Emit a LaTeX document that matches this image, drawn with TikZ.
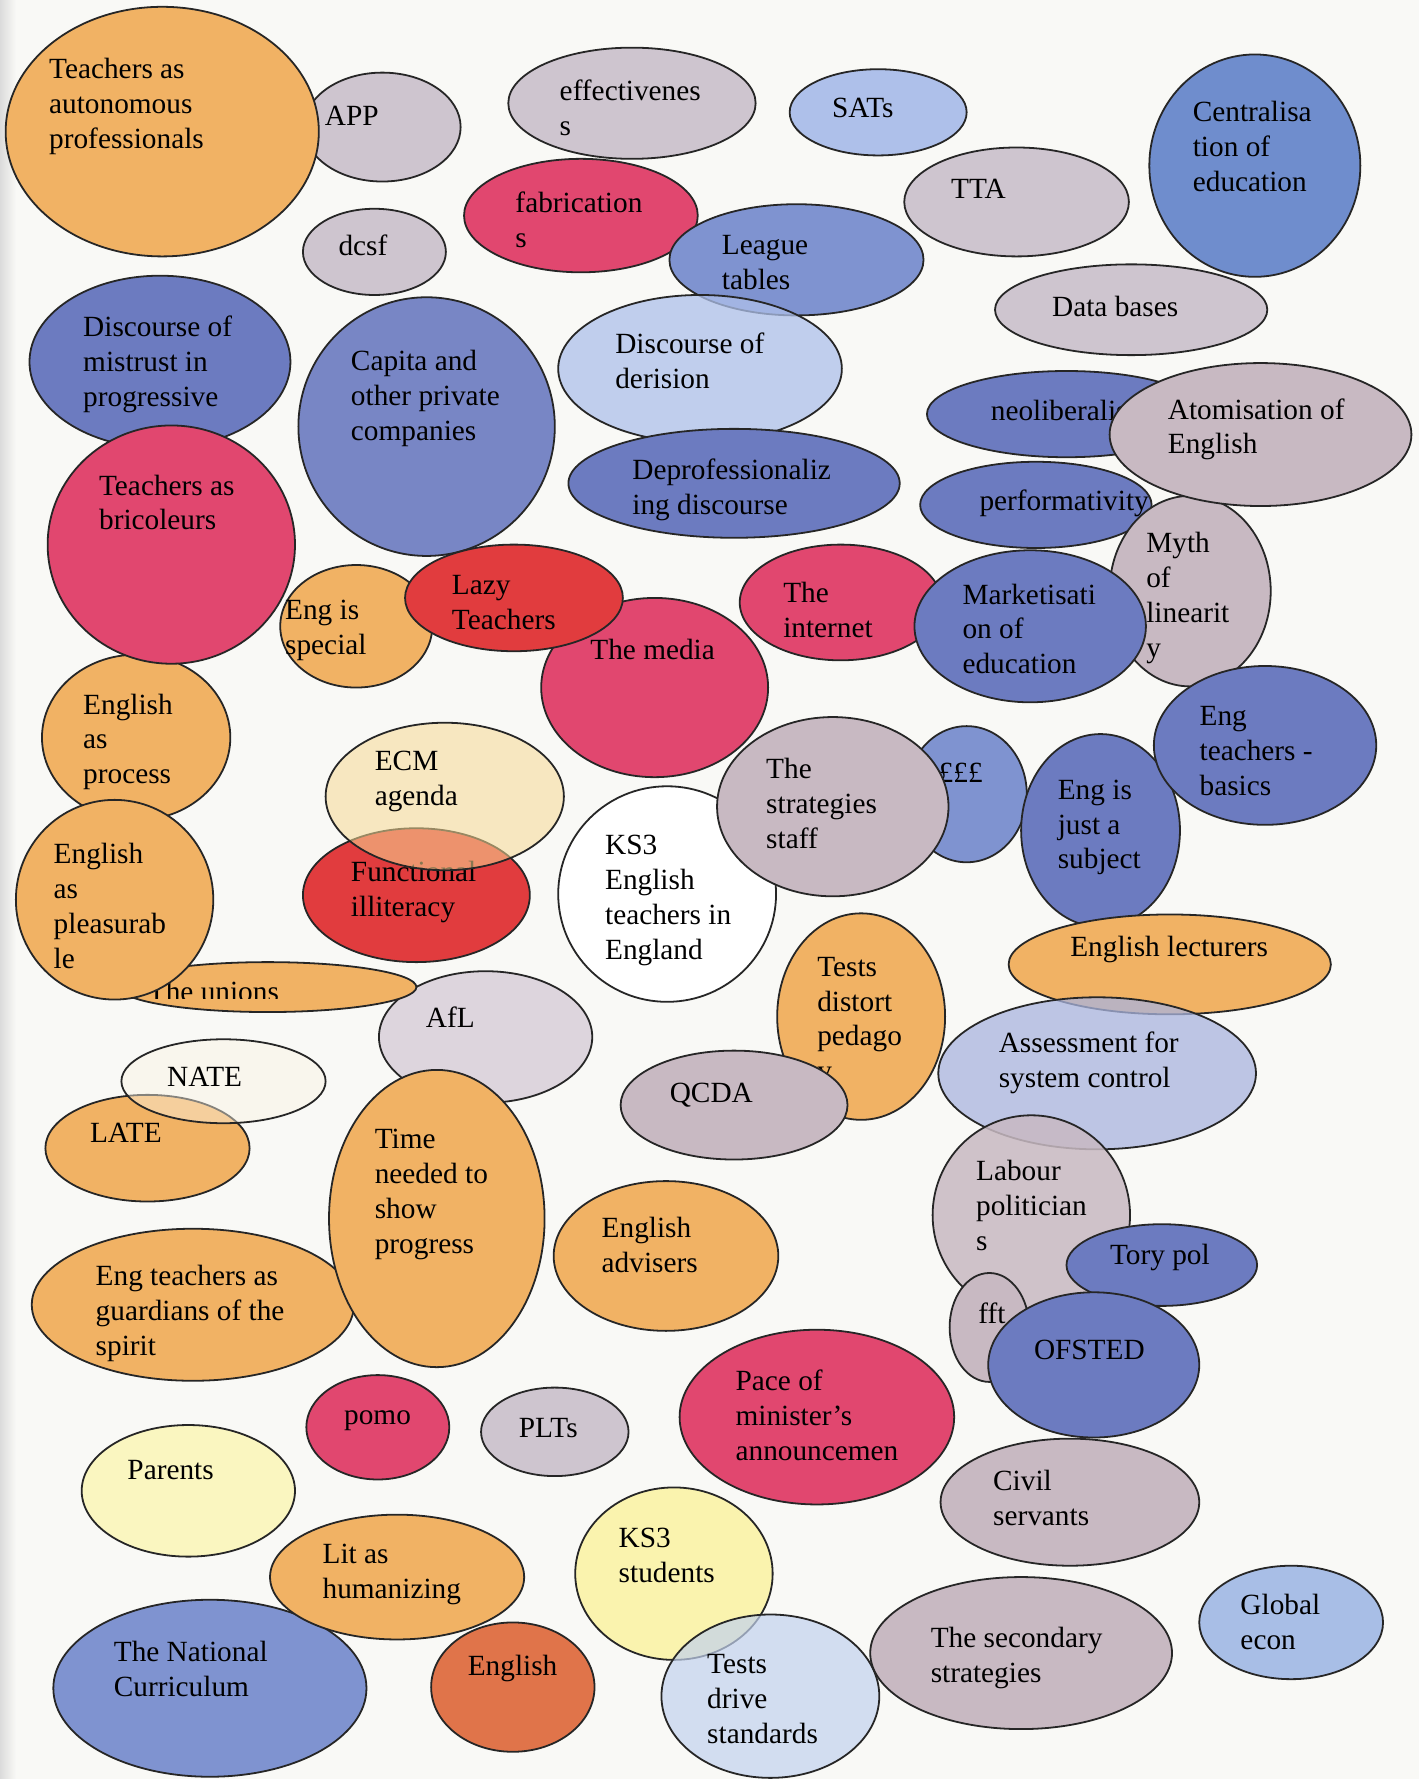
\documentclass[tikz,border=0pt]{standalone}
\usepackage{fontspec}
\setmainfont{Liberation Serif}
\usetikzlibrary{shapes.geometric}

\definecolor{paper}{HTML}{F9F9F6}
\definecolor{orangeB}{HTML}{F1B264}
\definecolor{crimsonB}{HTML}{E1476F}
\definecolor{redB}{HTML}{E13C3E}
\definecolor{blueD}{HTML}{6C7BC0}
\definecolor{blueM}{HTML}{7F93D0}
\definecolor{blueC}{HTML}{6F8DCD}
\definecolor{blueL}{HTML}{AEC0EA}
\definecolor{blueLL}{HTML}{C2D2EE}
\definecolor{blueA}{HTML}{A9B4DE}
\definecolor{blueG}{HTML}{A8BEE6}
\definecolor{greyA}{HTML}{CEC5CF}
\definecolor{greyB}{HTML}{C8B9C2}
\definecolor{greyC}{HTML}{DDD5DD}
\definecolor{ecmY}{HTML}{F7DA94}
\definecolor{nateY}{HTML}{FAF3E4}
\definecolor{parentY}{HTML}{FAF6C0}
\definecolor{studentY}{HTML}{FAF3AE}
\definecolor{englishO}{HTML}{E0744A}

\tikzset{
  bubble/.style={ellipse, draw=black!85, line width=0.9pt, inner sep=0pt},
  lbl/.style={anchor=north west, inner sep=0pt, align=left,
    font=\fontsize{14.7}{17.5}\selectfont, text=black},
}

% \Bub{name}{cx}{cy}{x radius}{y radius}{style}
\newcommand\Bub[6]{\node[bubble,#6,minimum width={2*#4*0.02cm},minimum height={2*#5*0.02cm}] (#1) at (#2,#3) {};}
% \Txt{name}{left x}{middle of first line}{text}
\newcommand\Txt[4]{\node[lbl] (#1) at (#2,#3-12.5) {\strut #4};}

\begin{document}
\begin{tikzpicture}[x=0.02cm, y=-0.02cm]
\useasboundingbox (0,0) rectangle (1251,1568);
\fill[paper] (0,0) rectangle (1251,1568);
\shade[left color=black!14, right color=paper] (0,0) rectangle (14,1568);

% top rows
\Bub{b-app}{337}{112}{69}{48}{fill=greyA}
\Txt{t-app}{286}{101}{APP}
\Bub{b-auto}{143}{116}{138}{110}{fill=orangeB}
\Txt{t-auto}{43}{60}{Teachers as\\autonomous\\professionals}
\Bub{b-eff}{557}{91}{109}{49}{fill=greyA}
\Txt{t-eff}{493}{79}{effectivenes\\s}
\Bub{b-sats}{774}{99}{78}{38}{fill=blueL}
\Txt{t-sats}{733}{94}{SATs}
\Bub{b-fab}{512}{190}{103}{50}{fill=crimsonB}
\Txt{t-fab}{454}{178}{fabrication\\s}
\Bub{b-league}{702}{229}{112}{49}{fill=blueM}
\Txt{t-league}{636}{215}{League\\tables}
\Bub{b-deris}{617}{325}{125}{65}{fill=blueL, fill opacity=0.75}
\Txt{t-deris}{542}{302}{Discourse of\\derision}
\Bub{b-deprof}{647}{426}{146}{48}{fill=blueD}
\Txt{t-deprof}{557}{413}{Deprofessionaliz\\ing discourse}
\Bub{b-tta}{896}{178}{99}{48}{fill=greyA}
\Txt{t-tta}{838}{166}{TTA}
\Bub{b-central}{1106}{146}{93}{98}{fill=blueC}
\Txt{t-central}{1051}{98}{Centralisa\\tion of\\education}
\Bub{b-data}{997}{273}{120}{40}{fill=greyA}
\Txt{t-data}{927}{270}{Data bases}
\Bub{b-dcsf}{330}{222}{63}{38}{fill=greyA}
\Txt{t-dcsf}{298}{216}{dcsf}
\Bub{b-mistrust}{141}{319}{115}{76}{fill=blueD}
\Txt{t-mistrust}{73}{287}{Discourse of\\mistrust in\\progressive}
\Bub{b-capita}{376}{376}{113}{114}{fill=blueD!92!white}
\Txt{t-capita}{309}{317}{Capita and\\other private\\companies}

% middle band
\Bub{b-process}{120}{650}{83}{73}{fill=orangeB}
\Txt{t-process}{73}{620}{English\\as\\process}
\Bub{b-special}{314}{552}{67}{54}{fill=orangeB}
\Txt{t-special}{251}{537}{Eng is\\special}
\Bub{b-bricol}{151}{480}{109}{105}{fill=crimsonB}
\Txt{t-bricol}{87}{427}{Teachers as\\bricoleurs}
\Bub{b-media}{577}{606}{100}{79}{fill=crimsonB}
\Txt{t-media}{520}{572}{The media}
\Bub{b-lazy}{453}{527}{96}{47}{fill=redB}
\Txt{t-lazy}{398}{515}{Lazy\\Teachers}
\Bub{b-internet}{741}{531}{89}{51}{fill=crimsonB}
\Txt{t-internet}{690}{522}{The\\internet}
\Bub{b-neolib}{940}{365}{123}{38}{fill=blueD}
\Txt{t-neolib}{873}{361}{neoliberalism}
\Bub{b-perf}{913}{445}{102}{38}{fill=blueD}
\Txt{t-perf}{863}{441}{performativity}
\Bub{b-myth}{1049}{521}{71}{84}{fill=greyB}
\Txt{t-myth}{1010}{478}{Myth\\of\\linearit\\y}
\Bub{b-atom}{1111}{383}{133}{63}{fill=greyB}
\Txt{t-atom}{1029}{360}{Atomisation of\\English}
\Bub{b-market}{908}{552}{102}{67}{fill=blueD}
\Txt{t-market}{848}{523}{Marketisati\\on of\\education}
\Bub{b-ks3t}{588}{788}{96}{95}{fill=white}
\Txt{t-ks3t}{533}{744}{KS3\\English\\teachers in\\England}
\Bub{b-money}{852}{700}{53}{60}{fill=blueM}
\Txt{t-money}{827}{680}{£££}
\Bub{b-strat}{734}{711}{102}{79}{fill=greyB}
\Txt{t-strat}{675}{677}{The\\strategies\\staff}
\Bub{b-just}{970}{732}{70}{85}{fill=blueD}
\Txt{t-just}{932}{695}{Eng is\\just a\\subject}
\Bub{b-basics}{1115}{657}{98}{70}{fill=blueD}
\Txt{t-basics}{1057}{630}{Eng\\teachers -\\basics}
\Bub{b-funct}{367}{789}{100}{59}{fill=redB}
\Txt{t-funct}{309}{768}{Functional\\illiteracy}
\Bub{b-ecm}{392}{702}{105}{65}{fill=ecmY, fill opacity=0.55}
\Txt{t-ecm}{330}{670}{ECM\\agenda}
\Bub{b-afl}{428}{914}{94}{58}{fill=greyC}
\Txt{t-afl}{375}{896}{AfL}
\Bub{b-unions}{236}{870}{131}{22}{fill=orangeB}
\begin{scope}
  % the label sits in a text box that cuts it off just above the baseline
  \clip (100,845) rectangle (370,880);
  \Txt{t-unions}{130}{873}{The unions}
\end{scope}
\Bub{b-pleas}{101}{793}{87}{88}{fill=orangeB}
\Txt{t-pleas}{47}{752}{English\\as\\pleasurab\\le}
\Bub{b-late}{130}{1012}{90}{47}{fill=orangeB}
\Txt{t-late}{79}{998}{LATE}
\Bub{b-nate}{197}{953}{90}{37}{fill=nateY, fill opacity=0.45}
\Txt{t-nate}{147}{948}{NATE}
\Bub{b-guard}{170}{1150}{142}{67}{fill=orangeB}
\Txt{t-guard}{84}{1124}{Eng teachers as\\guardians of the\\spirit}
\Bub{b-time}{385}{1074}{95}{131}{fill=orangeB}
\Txt{t-time}{330}{1003}{Time\\needed to\\show\\progress}
\Bub{b-distort}{759}{896}{74}{91}{fill=orangeB}
\Txt{t-distort}{720}{851}{Tests\\distort\\pedago\\y}
\Bub{b-qcda}{647}{974}{100}{48}{fill=greyB}
\Txt{t-qcda}{590}{962}{QCDA}
\Bub{b-lect}{1031}{850}{142}{44}{fill=orangeB}
\Txt{t-lect}{943}{834}{English lecturers}
\Bub{b-assess}{967}{946}{140}{67}{fill=blueA, fill opacity=0.75}
\Txt{t-assess}{880}{918}{Assessment for\\system control}
\Bub{b-labour}{909}{1071}{87}{88}{fill=greyB, fill opacity=0.85}
\Txt{t-labour}{860}{1031}{Labour\\politician\\s}
\Bub{b-tory}{1024}{1115}{84}{36}{fill=blueD}
\Txt{t-tory}{978}{1105}{Tory pol}
\Bub{b-fft}{872}{1170}{35}{48}{fill=greyB}
\Txt{t-fft}{862}{1157}{fft}
\Bub{b-ofsted}{964}{1203}{93}{64}{fill=blueD}
\Txt{t-ofsted}{911}{1189}{OFSTED}
\Bub{b-civil}{943}{1324}{114}{56}{fill=greyB}
\Txt{t-civil}{875}{1304}{Civil\\servants}

% bottom rows
\Bub{b-advis}{587}{1107}{99}{66}{fill=orangeB}
\Txt{t-advis}{530}{1081}{English\\advisers}
\Bub{b-pomo}{333}{1258}{63}{46}{fill=crimsonB}
\Txt{t-pomo}{303}{1246}{pomo}
\Bub{b-plts}{489}{1262}{65}{39}{fill=greyA}
\Txt{t-plts}{457}{1258}{PLTs}
\Bub{b-pace}{720}{1249}{121}{77}{fill=crimsonB}
\Txt{t-pace}{648}{1216}{Pace of\\minister’s\\announcemen}
\Bub{b-parents}{166}{1314}{94}{58}{fill=parentY}
\Txt{t-parents}{112}{1295}{Parents}
\Bub{b-natcur}{185}{1488}{138}{78}{fill=blueM}
\Txt{t-natcur}{100}{1455}{The National\\Curriculum}
\Bub{b-lit}{350}{1390}{112}{55}{fill=orangeB}
\Txt{t-lit}{284}{1369}{Lit as\\humanizing}
\Bub{b-english}{452}{1487}{72}{57}{fill=englishO}
\Txt{t-english}{412}{1467}{English}
\Bub{b-ks3s}{594}{1387}{87}{76}{fill=studentY}
\Txt{t-ks3s}{545}{1355}{KS3\\students}
\Bub{b-drive}{679}{1495}{96}{72}{fill=blueLL, fill opacity=0.7}
\Txt{t-drive}{623}{1466}{Tests\\drive\\standards}
\Bub{b-second}{900}{1457}{133}{67}{fill=greyB}
\Txt{t-second}{820}{1443}{The secondary\\strategies}
\Bub{b-global}{1138}{1430}{81}{50}{fill=blueG}
\Txt{t-global}{1093}{1414}{Global\\econ}
\end{tikzpicture}
\end{document}
